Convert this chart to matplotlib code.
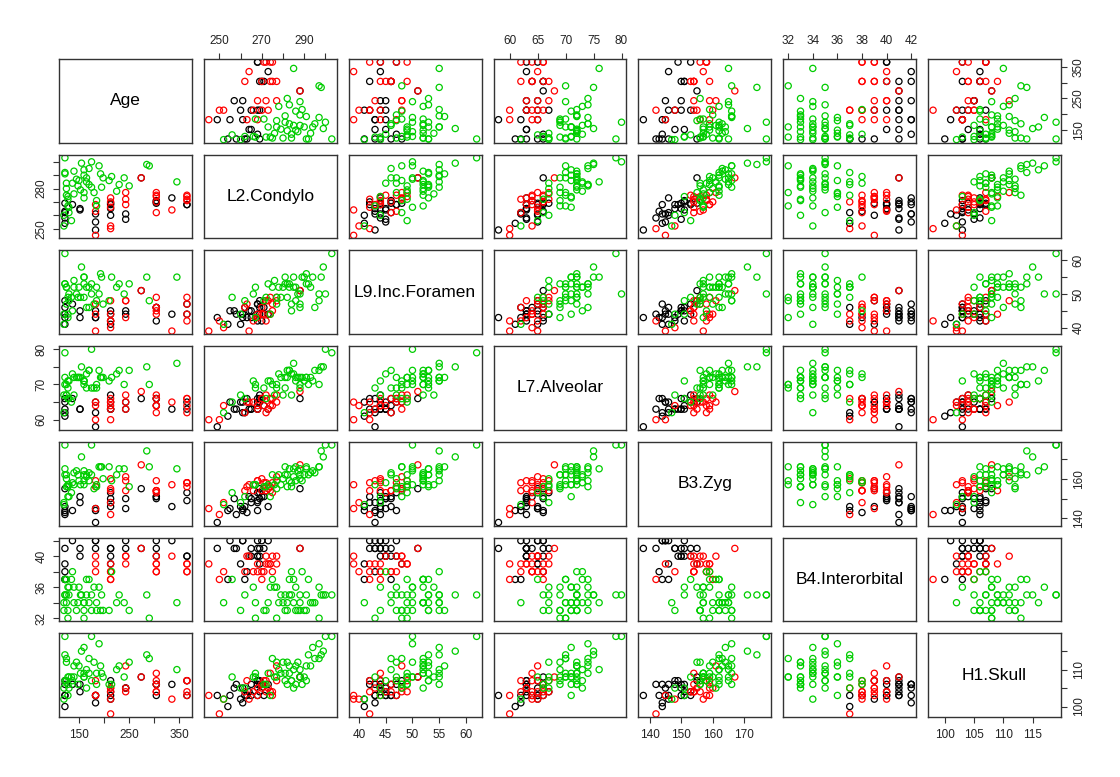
import matplotlib
matplotlib.use("Agg")
import matplotlib.pyplot as plt

plt.rcParams['font.family'] = ['Liberation Sans', 'DejaVu Sans']

# three groups, data in order: black, red, green
group = ['black'] * 24 + ['red'] * 22 + ['green'] * 48
palette = {'black': 'black', 'red': '#FF0000', 'green': '#00CD00'}

age = [365, 365, 335, 304, 304, 304, 274, 243, 243, 213, 213, 213, 213, 183, 183, 183, 152, 152, 137, 122, 122, 122, 122, 122,
       365, 365, 365, 365, 335, 304, 304, 304, 304, 304, 274, 243, 243, 243, 213, 213, 213, 213, 213, 183, 183, 183,
       345, 290, 285, 250, 240, 230, 215, 198, 193, 190, 185, 185, 180, 175, 170, 165, 165, 160, 160, 155,
       153, 148, 140, 137, 135, 130, 128, 128, 128, 125, 125, 122, 122, 122, 120, 120, 140, 175, 210, 225,
       150, 160, 170, 195, 130, 125, 145, 160]
l2 = [268, 268, 273, 269, 271, 270, 288, 257, 261, 260, 265, 268, 269, 249, 255, 261, 264, 265, 268, 254, 262, 263, 269, 258,
      271, 274, 275, 272, 264, 262, 274, 275, 277, 270, 288, 268, 272, 277, 250, 252, 273, 266, 270, 245, 263, 268,
      285, 297, 298, 282, 288, 283, 289, 288, 291, 297, 267, 271, 277, 281, 283, 288, 285, 277, 273, 299,
      279, 282, 276, 284, 256, 262, 267, 272, 274, 280, 284, 291, 292, 303, 252, 260, 293, 300, 286, 278,
      286, 290, 295, 281, 266, 275, 287, 294]
l9 = [44, 47, 44, 46, 46, 42, 51, 45, 44, 41, 45, 42, 44, 43, 45, 43, 45, 43, 47, 41, 46, 43, 48, 44,
      44, 49, 47, 42, 39, 46, 44, 45, 49, 46, 51, 43, 48, 48, 42, 40, 48, 42, 44, 39, 47, 44,
      55, 48, 55, 53, 50, 53, 55, 47, 56, 50, 52, 48, 47, 53, 52, 46, 52, 49, 53, 58,
      49, 49, 54, 45, 49, 48, 43, 49, 44, 52, 47, 53, 53, 62, 41, 44, 52, 50, 48, 52,
      52, 55, 46, 55, 50, 52, 50, 55]
l7 = [63, 65, 63, 66, 64, 66, 66, 63, 65, 65, 63, 63, 67, 58, 65, 62, 63, 63, 66, 61, 62, 66, 65, 63,
      64, 66, 66, 62, 65, 62, 64, 64, 67, 66, 68, 63, 67, 65, 60, 64, 63, 65, 66, 60, 65, 64,
      76, 70, 75, 74, 70, 74, 72, 72, 72, 74, 70, 69, 69, 69, 74, 69, 73, 70, 71, 75,
      72, 72, 67, 73, 65, 66, 69, 66, 71, 67, 67, 72, 70, 79, 62, 67, 72, 80, 71, 73,
      72, 71, 74, 72, 71, 70, 72, 71]
b3 = [149, 153, 146, 150, 151, 151, 155, 150, 145, 146, 150, 148, 153, 138, 145, 144, 151, 148, 144, 144, 146, 143, 155, 142,
      158, 156, 158, 158, 157, 154, 154, 153, 159, 154, 167, 159, 154, 161, 142, 148, 155, 154, 160, 145, 156, 159,
      165, 166, 174, 156, 165, 165, 159, 160, 166, 166, 157, 156, 155, 162, 159, 162, 161, 159, 157, 171,
      157, 162, 157, 158, 153, 151, 157, 156, 151, 160, 156, 165, 162, 177, 147, 148, 163, 177, 166, 162,
      159, 162, 163, 166, 157, 162, 164, 164]
b4 = [40, 40, 42, 40, 41, 42, 41, 41, 42, 39, 40, 41, 41, 41, 42, 42, 40, 41, 42, 37, 37, 38, 39, 41,
      38, 39, 38, 39, 40, 38, 39, 40, 39, 38, 41, 39, 40, 40, 37, 38, 39, 38, 37, 39, 40, 38,
      34, 32, 35, 33, 34, 35, 38, 33, 33, 36, 34, 33, 36, 33, 37, 35, 37, 32, 34, 35,
      35, 34, 36, 38, 37, 35, 32, 33, 36, 34, 35, 35, 37, 35, 34, 33, 34, 35, 33, 34,
      36, 33, 34, 35, 36, 37, 33, 34]
h1 = [107, 103, 106, 106, 103, 106, 108, 105, 105, 102, 103, 107, 104, 103, 103, 101, 104, 106, 106, 100, 103, 103, 107, 106,
      107, 104, 103, 107, 102, 104, 109, 104, 107, 106, 108, 105, 104, 111, 98, 102, 105, 104, 105, 103, 107, 103,
      110, 113, 114, 112, 108, 111, 106, 108, 111, 117, 109, 106, 112, 107, 109, 110, 105, 108, 109, 115,
      109, 106, 108, 107, 108, 105, 108, 106, 103, 112, 107, 107, 114, 119, 102, 105, 111, 119, 106, 110,
      111, 108, 113, 109, 108, 113, 112, 116]

names = ["Age", "L2.Condylo", "L9.Inc.Foramen", "L7.Alveolar", "B3.Zyg", "B4.Interorbital", "H1.Skull"]
data = [age, l2, l9, l7, b3, b4, h1]

# tick positions, and labels for the two sides each variable can show
ticks = [[150, 200, 250, 300, 350],
         [250, 260, 270, 280, 290, 300],
         [40, 45, 50, 55, 60],
         [60, 65, 70, 75, 80],
         [140, 150, 160, 170],
         [32, 34, 36, 38, 40, 42],
         [100, 105, 110, 115]]
# labels on the horizontal axis (top or bottom)
xlabels = [['150', '', '250', '', '350'],
           ['250', '', '270', '', '290', ''],
           ['40', '45', '50', '55', '60'],
           ['60', '65', '70', '75', '80'],
           ['140', '150', '160', '170'],
           ['32', '34', '36', '38', '40', '42'],
           ['100', '105', '110', '115']]
# labels on the vertical axis (left or right)
ylabels = [['150', '', '250', '', '350'],
           ['250', '', '', '280', '', ''],
           ['40', '', '50', '', '60'],
           ['60', '', '70', '', '80'],
           ['140', '', '160', ''],
           ['32', '', '36', '', '40', ''],
           ['100', '', '110', '']]

colors = [palette[g] for g in group]

lims = []
for v in data:
    lo, hi = min(v), max(v)
    r = hi - lo
    lims.append((lo - 0.04 * r, hi + 0.04 * r))

W, H = 1120, 777
mleft, mtop, mright, mbottom = 59, 59, 59, 60
gap = 12
n = len(names)
pw = (W - mleft - mright - (n - 1) * gap) / n
ph = (H - mtop - mbottom - (n - 1) * gap) / n

fig = plt.figure(figsize=(W / 100, H / 100), dpi=100)

for i in range(n):
    for j in range(n):
        x0 = mleft + j * (pw + gap)
        y0 = mtop + i * (ph + gap)
        ax = fig.add_axes([x0 / W, 1 - (y0 + ph) / H, pw / W, ph / H])
        ax.set_xlim(lims[j])
        ax.set_ylim(lims[i])
        for s in ax.spines.values():
            s.set_linewidth(1.0)
            s.set_color('#333333')
        if i == j:
            ax.text(0.5, 0.5, names[i], transform=ax.transAxes,
                    ha='center', va='center', fontsize=12.5)
        else:
            ax.scatter(data[j], data[i], s=20, facecolors='none',
                       edgecolors=colors, linewidths=0.9)

        ax.set_xticks([])
        ax.set_yticks([])
        tp = dict(direction='out', length=4.5, width=0.8, color='#333333',
                  labelsize=8.5, labelcolor='#222222', pad=4)
        if i == 0 and j % 2 == 1:
            ax.set_xticks(ticks[j])
            ax.set_xticklabels(xlabels[j])
            ax.xaxis.set_ticks_position('top')
            ax.tick_params(axis='x', **tp)
        if i == n - 1 and j % 2 == 0:
            ax.set_xticks(ticks[j])
            ax.set_xticklabels(xlabels[j])
            ax.xaxis.set_ticks_position('bottom')
            ax.tick_params(axis='x', **tp)
        if j == 0 and i % 2 == 1:
            ax.set_yticks(ticks[i])
            ax.set_yticklabels(ylabels[i], rotation=90, va='center')
            ax.yaxis.set_ticks_position('left')
            ax.tick_params(axis='y', **tp)
        if j == n - 1 and i % 2 == 0:
            ax.set_yticks(ticks[i])
            ax.set_yticklabels(ylabels[i], rotation=90, va='center')
            ax.yaxis.set_ticks_position('right')
            ax.tick_params(axis='y', **tp)

fig.savefig("out.png", dpi=100, facecolor='white')
